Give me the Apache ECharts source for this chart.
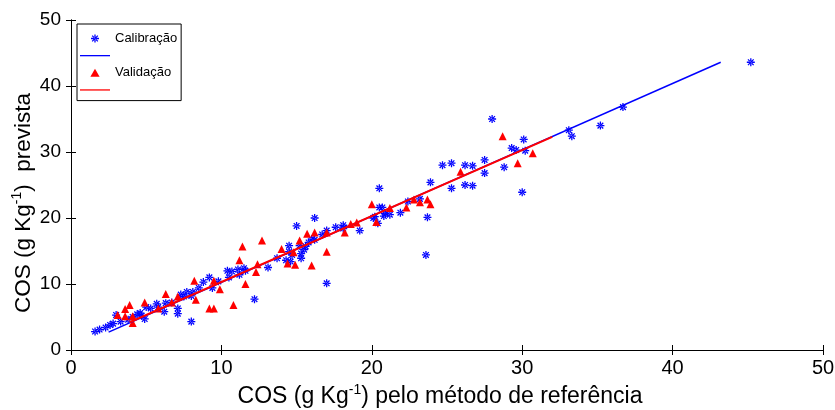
<!DOCTYPE html>
<html>
<head>
<meta charset="utf-8">
<script src="https://cdn.jsdelivr.net/npm/echarts@6/dist/echarts.min.js"></script>
<style>
html,body{margin:0;padding:0;background:#fff;}
#c{width:835px;height:410px;}
</style>
</head>
<body>
<div id="c"></div>
<script>
// Calibração (blue asterisks): [reference, predicted]
const calibracao = [
 [1.6,2.8],[1.9,3.1],[2.3,3.4],[2.6,3.8],[2.8,4.0],[3.0,5.3],[3.3,4.3],[3.8,4.6],[4.1,5.0],[4.4,5.4],
 [4.6,5.6],[4.7,5.2],[4.9,4.7],[5.0,6.5],[5.3,6.3],[5.7,7.0],[5.8,6.5],[6.2,5.8],[6.3,7.1],[6.7,7.2],
 [7.1,6.3],[7.1,5.5],[7.3,8.4],[7.5,8.1],[7.7,8.8],[8.0,4.3],[8.0,8.2],[8.1,8.8],[8.5,9.4],[8.8,10.3],
 [9.2,11.0],[9.4,9.4],[9.8,10.4],[10.4,12.0],[10.7,11.9],[10.5,11.0],[11.1,12.2],[11.2,11.4],[11.5,12.4],[11.6,12.0],
 [12.2,7.7],[13.1,12.5],[13.7,13.9],[14.5,15.8],[14.3,13.6],[14.5,14.9],[14.6,13.4],[14.7,14.4],[15.0,18.8],[15.2,15.8],
 [15.3,14.6],[15.3,13.9],[15.5,15.2],[15.6,15.7],[15.8,16.3],[16.0,16.8],[16.2,16.7],[16.2,20.0],[16.7,17.5],[17.0,18.1],
 [17.0,10.1],[17.6,18.6],[18.1,18.9],[18.1,18.4],[19.2,18.1],[20.1,20.0],[20.2,20.2],[20.4,19.2],[20.5,21.6],[20.5,24.5],
 [20.7,21.6],[20.8,20.3],[20.9,20.7],[21.2,20.5],[21.9,20.8],[22.4,22.5],[23.2,22.9],[23.7,20.1],[23.6,14.4],[23.9,25.4],
 [24.7,28.0],[25.3,24.5],[25.3,28.3],[26.2,28.0],[26.2,25.0],[26.7,27.9],[26.7,24.9],[27.5,26.8],[27.5,28.8],[28.0,35.0],
 [28.8,27.7],[29.3,30.6],[29.6,30.3],[30.0,23.9],[30.1,31.9],[30.2,30.2],[33.1,33.3],[33.3,32.4],[35.2,34.0],[36.7,36.8],
 [45.2,43.6]
];
// Validação (red triangles)
const validacao = [
 [3.1,5.3],[3.6,6.2],[3.9,6.8],[3.6,5.1],[4.1,5.1],[4.1,4.1],[4.9,7.2],[5.8,6.3],[6.3,8.5],[6.7,7.2],
 [7.1,8.1],[8.2,10.5],[8.3,7.6],[9.2,6.3],[9.5,10.5],[9.9,9.2],[9.5,6.3],[10.8,6.8],[11.2,13.6],[11.4,15.7],
 [11.6,10.0],[12.3,11.8],[12.4,13.0],[12.7,16.6],[14.0,15.3],[14.4,13.1],[14.8,14.8],[14.9,12.9],[15.2,16.6],[15.7,17.6],
 [16.0,12.8],[16.2,17.8],[17.0,14.9],[17.0,17.8],[18.2,17.8],[18.6,19.1],[19.0,19.3],[20.0,22.1],[20.3,19.4],[21.2,21.5],
 [22.3,21.6],[22.8,22.8],[23.2,22.4],[23.7,22.8],[23.9,22.1],[25.9,27.0],[28.7,32.4],[29.7,28.3],[30.7,29.8]
];
// Fitted lines (endpoints)
const calFitX = [2.5, 43.2];
const calFitY = [2.7, 43.6];
const valFitX = [3.9, 32.0];
const valFitY = [4.2, 32.3];
// Axis ticks
const xTicks = [0, 10, 20, 30, 40, 50];
const yTicks = [0, 10, 20, 30, 40, 50];

const starPath = 'path://M-0.8,-5L0.8,-5L0.8,5L-0.8,5Z M-5,-0.8L5,-0.8L5,0.8L-5,0.8Z M-4.1,-3L3,4.1L4.1,3L-3,-4.1Z M3,-4.1L4.1,-3L-3,4.1L-4.1,3Z';
const triPath = 'path://M0,-4L4.6,4L-4.6,4Z';
const linePath = 'path://M0,0L30,0L30,1.3L0,1.3Z';

const FONT = 'Liberation Sans, Arial, Helvetica, sans-serif';
const chart = echarts.init(document.getElementById('c'), null, {renderer: 'canvas'});

const axisCommon = {
  min: xTicks[0], max: xTicks[xTicks.length-1], interval: xTicks[1]-xTicks[0],
  axisLine: {show: true, lineStyle: {color: '#000', width: 1}},
  axisTick: {show: true, inside: true, length: 5, lineStyle: {color: '#000'}},
  splitLine: {show: false}
};
function nameRich(fs) {
  return {
    b: {fontSize: fs, color: '#000', fontFamily: FONT, lineHeight: fs + 5},
    s: {fontSize: Math.round(fs * 0.62), color: '#000', fontFamily: FONT, verticalAlign: 'top', lineHeight: Math.round(fs * 0.62)}
  };
}

const option = {
  animation: false,
  backgroundColor: '#fff',
  textStyle: {fontFamily: FONT},
  grid: {left: 71, right: 12, top: 20, bottom: 60, containLabel: false, outerBoundsMode: 'none'},
  legend: {
    orient: 'vertical',
    left: 77, top: 24,
    padding: [8, 4, 10, 3],
    borderColor: '#000', borderWidth: 1,
    backgroundColor: '#fff',
    itemWidth: 30, itemHeight: 8, itemGap: 10,
    symbolKeepAspect: true,
    textStyle: {fontFamily: FONT, fontSize: 13, color: '#000', lineHeight: 11},
    data: [
      {name: 'Calibração', icon: starPath},
      {name: 'fitCal', icon: linePath},
      {name: 'Validação', icon: triPath},
      {name: 'fitVal', icon: linePath}
    ],
    formatter: function (n) { return (n === 'fitCal' || n === 'fitVal') ? '' : n; },
    selectedMode: false
  },
  xAxis: [
    Object.assign({}, axisCommon, {
      type: 'value', position: 'bottom',
      axisLabel: {color: '#000', fontSize: 20, margin: 8, fontFamily: FONT},
      name: '{b|COS (g Kg}{s|-1}{b|) pelo método de referência}',
      nameLocation: 'middle', nameGap: 33, nameMoveOverlap: false,
      nameTextStyle: {rich: nameRich(23), padding: [0, 14, 0, 0]}
    }),
    Object.assign({}, axisCommon, {
      type: 'value', position: 'top', axisLabel: {show: false}
    })
  ],
  yAxis: [
    Object.assign({}, axisCommon, {
      type: 'value', position: 'left',
      min: yTicks[0], max: yTicks[yTicks.length-1], interval: yTicks[1]-yTicks[0],
      axisLabel: {color: '#000', fontSize: 19, margin: 10, fontFamily: FONT},
      name: '{b|COS (g Kg}{s|-1}{b|)  prevista}',
      nameLocation: 'middle', nameGap: 33, nameRotate: 90, nameMoveOverlap: false,
      nameTextStyle: {rich: nameRich(22.5), padding: [0, 36, 0, 0]}
    }),
    Object.assign({}, axisCommon, {
      type: 'value', position: 'right',
      min: yTicks[0], max: yTicks[yTicks.length-1], interval: yTicks[1]-yTicks[0],
      axisLabel: {show: false}
    })
  ],
  series: [
    {
      name: 'Calibração', type: 'scatter', xAxisIndex: 0, yAxisIndex: 0,
      data: calibracao, symbol: starPath, symbolSize: 8,
      itemStyle: {color: '#0000ff', opacity: 1}, z: 2
    },
    {
      name: 'Validação', type: 'scatter', xAxisIndex: 0, yAxisIndex: 0,
      data: validacao, symbol: 'triangle', symbolSize: 8,
      itemStyle: {color: '#ff0000', opacity: 1}, z: 2
    },
    {
      name: 'fitCal', type: 'line', xAxisIndex: 0, yAxisIndex: 0,
      data: calFitX.map((x, i) => [x, calFitY[i]]),
      symbol: 'none', lineStyle: {color: '#0000ff', width: 1.5},
      itemStyle: {color: '#0000ff'}, z: 3
    },
    {
      name: 'fitVal', type: 'line', xAxisIndex: 0, yAxisIndex: 0,
      data: valFitX.map((x, i) => [x, valFitY[i]]),
      symbol: 'none', lineStyle: {color: '#ff0000', width: 2},
      itemStyle: {color: '#ff0000'}, z: 4
    }
  ]
};
chart.setOption(option);
</script>
</body>
</html>
